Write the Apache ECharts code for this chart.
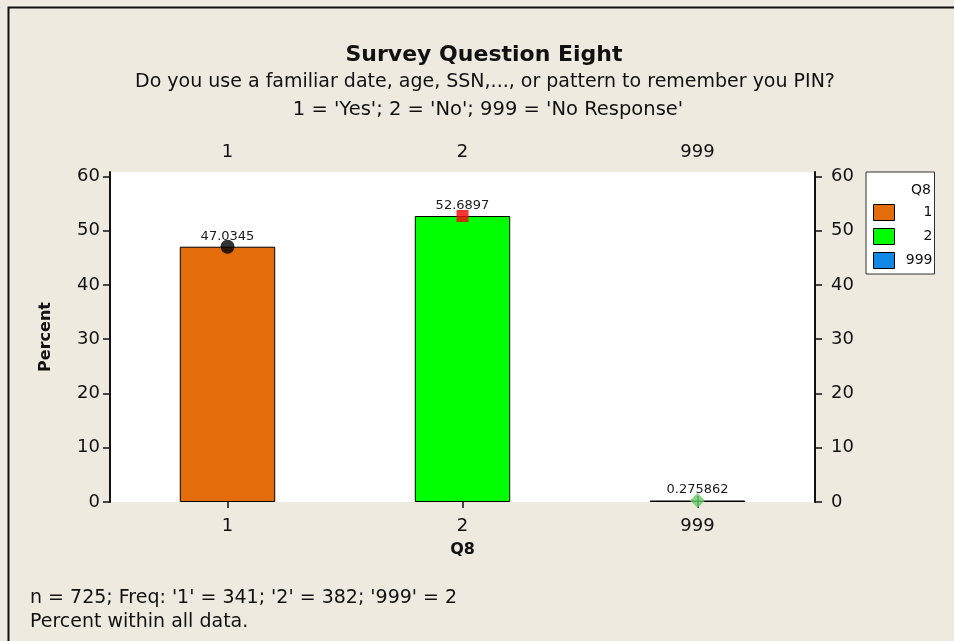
<!DOCTYPE html>
<html>
<head>
<meta charset="utf-8">
<script src="https://cdn.jsdelivr.net/npm/echarts@6/dist/echarts.min.js"></script>
<style>
html,body{margin:0;padding:0;background:#EEEAE0;}
#chart{width:954px;height:641px;}
</style>
</head>
<body>
<div id="chart"></div>
<script>
const categories = ['1', '2', '999'];
const percents = [47.0345, 52.6897, 0.275862];
const valueLabels = ['47.0345', '52.6897', '0.275862'];
const yTicks = [0, 10, 20, 30, 40, 50, 60];
const yMax = 60.8;
const titleText = 'Survey Question Eight';
const subtitleLines = ["Do you use a familiar date, age, SSN,..., or pattern to remember you PIN?", "1 = 'Yes'; 2 = 'No'; 999 = 'No Response'"];
const footnoteLines = ["n = 725; Freq: '1' = 341; '2' = 382; '999' = 2", "Percent within all data."];
const barColors = ['#E46C0A', '#00FF00', '#1288E6'];
const markerSymbols = ['circle', 'rect', 'diamond'];
const markerColors = ['#000000', '#FF0000', '#66CC66'];
const markerSizes = [14, 12, 15];

const FONT = 'DejaVu Sans';
const chart = echarts.init(document.getElementById('chart'), null, {renderer: 'canvas'});

const barSeries = categories.map((c, i) => ({
  name: c,
  type: 'bar',
  xAxisIndex: 0,
  yAxisIndex: 0,
  barGap: '-100%',
  barWidth: '40.6%',
  data: percents.map((v, j) => (j === i ? v : '-')),
  itemStyle: {color: barColors[i], borderColor: '#000', borderWidth: 1},
  label: {
    show: true, position: 'top', distance: 4,
    fontFamily: FONT, fontSize: 13, color: '#1a1a1a',
    formatter: p => valueLabels[p.dataIndex]
  },
  z: 2
}));

const markerSeries = {
  type: 'scatter',
  xAxisIndex: 0,
  yAxisIndex: 0,
  data: percents.map((v, i) => ({
    value: [categories[i], v],
    symbol: markerSymbols[i],
    symbolSize: markerSizes[i],
    itemStyle: {color: markerColors[i]}
  })),
  z: 5
};

const tickLabelStyle = {fontFamily: FONT, fontSize: 18, color: '#111'};

chart.setOption({
  backgroundColor: '#EEEAE0',
  animation: false,
  textStyle: {fontFamily: FONT},
  title: [
    {text: titleText, left: 484, textAlign: 'center', top: 41, padding: 0,
     textStyle: {fontFamily: FONT, fontSize: 22, fontWeight: 'bold', color: '#111', lineHeight: 28}},
    {text: subtitleLines[0], left: 485, textAlign: 'center', top: 69, padding: 0,
     textStyle: {fontFamily: FONT, fontSize: 19, fontWeight: 'normal', color: '#111', lineHeight: 27}},
    {text: subtitleLines[1], left: 488, textAlign: 'center', top: 96, padding: 0,
     textStyle: {fontFamily: FONT, fontSize: 19.5, fontWeight: 'normal', color: '#111', lineHeight: 27}},
    {text: footnoteLines.join('\n'), left: 30, top: 586, padding: 0,
     textStyle: {fontFamily: FONT, fontSize: 19, fontWeight: 'normal', color: '#111', lineHeight: 24}}
  ],
  grid: {left: 110, right: 139, top: 172, bottom: 139, show: true, backgroundColor: '#ffffff', borderWidth: 0},
  legend: {
    orient: 'vertical', left: 866, top: 172,
    padding: [32, 2, 5, 7],
    backgroundColor: '#ffffff', borderColor: '#333', borderWidth: 1,
    itemWidth: 21, itemHeight: 16, itemGap: 7,
    icon: 'rect',
    data: categories,
    formatter: n => '{a|' + n + '}',
    textStyle: {fontFamily: FONT, fontSize: 14, color: '#111', lineHeight: 16,
      rich: {a: {width: 33, align: 'right', fontFamily: FONT, fontSize: 14, color: '#111'}}},
    itemStyle: {borderColor: '#000', borderWidth: 1}
  },
  graphic: [
    {type: 'text', right: 954 - 931, top: 183, z: 100,
     style: {text: 'Q8', fontFamily: FONT, fontSize: 14, fill: '#111', textAlign: 'right'}},
    {type: 'rect', left: 6, top: 5, z: 100, silent: true,
     shape: {width: 1200, height: 1200}, style: {fill: 'none', stroke: '#111', lineWidth: 2}}
  ],
  xAxis: [
    {type: 'category', position: 'bottom', data: categories,
     name: 'Q8', nameLocation: 'middle', nameGap: 40,
     nameTextStyle: {fontFamily: FONT, fontSize: 16, fontWeight: 'bold', color: '#111'},
     axisLine: {show: false},
     axisTick: {show: true, alignWithLabel: true, length: 6, lineStyle: {color: '#111', width: 1.5}},
     axisLabel: Object.assign({margin: 15}, tickLabelStyle),
     splitLine: {show: false}},
    {type: 'category', position: 'top', data: categories,
     axisLine: {show: false},
     axisTick: {show: true, alignWithLabel: true, length: 6, lineStyle: {color: '#111', width: 1.5}},
     axisLabel: Object.assign({margin: 11}, tickLabelStyle),
     splitLine: {show: false}}
  ],
  yAxis: [
    {type: 'value', position: 'left', min: 0, max: yMax, interval: 10,
     name: 'Percent', nameLocation: 'middle', nameGap: 56, nameRotate: 90,
     nameTextStyle: {fontFamily: FONT, fontSize: 16, fontWeight: 'bold', color: '#111'},
     axisLine: {show: true, lineStyle: {color: '#111', width: 2}},
     axisTick: {show: true, length: 7, customValues: yTicks, lineStyle: {color: '#111', width: 1.5}},
     axisLabel: Object.assign({margin: 10, customValues: yTicks}, tickLabelStyle),
     splitLine: {show: false}},
    {type: 'value', position: 'right', min: 0, max: yMax, interval: 10,
     axisLine: {show: true, lineStyle: {color: '#111', width: 2}},
     axisTick: {show: true, length: 7, customValues: yTicks, lineStyle: {color: '#111', width: 1.5}},
     axisLabel: Object.assign({margin: 16, customValues: yTicks}, tickLabelStyle),
     splitLine: {show: false}}
  ],
  series: barSeries.concat([markerSeries])
});
</script>
</body>
</html>
